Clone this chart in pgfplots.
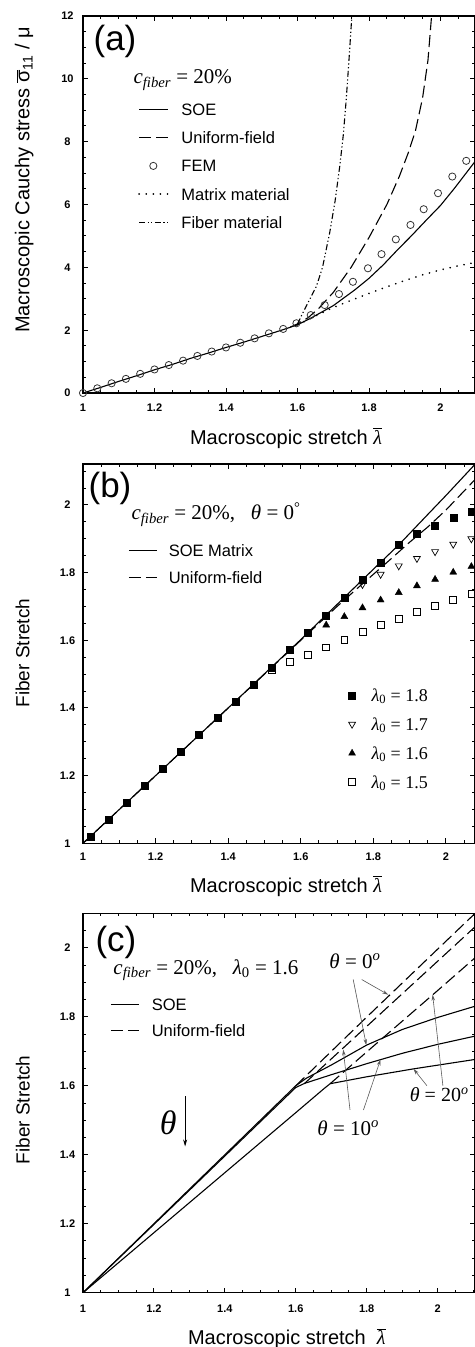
\documentclass[border=0pt]{standalone}
\usepackage{fontspec}
\setmainfont{Liberation Sans}
\newfontfamily\tms{Liberation Serif}
\usepackage{pgfplots}
\pgfplotsset{compat=1.18}
\usetikzlibrary{arrows.meta}
\newcommand{\fs}[1]{\fontsize{#1}{#1}\selectfont}
\newcommand{\lbar}{\ensuremath{\overline{\mbox{\tms\itshape λ}}}}
\newcommand{\sbar}{\ensuremath{\overline{\mbox{σ}}_{\mbox{\fs{14}11}}}}
\newcommand{\cfib}{{\tms\itshape c}\textsubscript{\tms\itshape fiber}}
\tikzset{arr/.style={black!65, line width=0.6pt, -{Stealth[length=6pt,width=3.5pt]}}}
\pgfplotsset{
  myax/.style={
    scale only axis, width=392pt, anchor=south west,
    xmin=1, enlargelimits=false,
    tick align=inside,
    major tick length=5pt, minor tick length=3pt,
    tick style={black, line width=1pt},
    axis line style={line width=1.2pt},
    xtick={1,1.2,1.4,1.6,1.8,2}, xticklabels={1,1.2,1.4,1.6,1.8,2},
    minor xtick={1.05,1.1,1.15,1.25,1.3,1.35,1.45,1.5,1.55,1.65,1.7,1.75,1.85,1.9,1.95,2.05,2.1},
    tick label style={font=\fs{11}\bfseries},
    /pgf/number format/assume math mode=true,
    xticklabel style={anchor=center},
    yticklabel style={anchor=center, xshift=-15.5pt},
    label style={font=\fs{20}},
    legend cell align=left,
    legend image code/.code={\draw[##1] (0cm,0cm) -- (1cm,0cm);},
  },
  fibticks/.style={
    ytick={1,1.2,1.4,1.6,1.8,2}, yticklabels={1,1.2,1.4,1.6,1.8,2},
    minor ytick={1.05,1.1,1.15,1.25,1.3,1.35,1.45,1.5,1.55,1.65,1.7,1.75,1.85,1.9,1.95,2.05,2.1},
  },
  uni/.style={line width=1.1pt, dash pattern=on 12pt off 5pt},
  soe/.style={line width=1.1pt},
  mleg/.style={legend image code/.code={\draw[##1] plot coordinates {(0cm,0cm)};}},
  femleg/.style={legend image code/.code={\draw[##1] plot coordinates {(0.5cm,0cm)};}},
  lineleg/.style={legend image code/.code={\draw[##1] (0cm,0cm) -- (1cm,0cm);}},
}
\begin{document}
\begin{tikzpicture}
% ---------------- (a)
\begin{axis}[myax, at={(83pt,-393pt)}, height=377pt, xmax=2.0965, ymin=0, ymax=12,
  ytick={0,2,4,6,8,10,12}, yticklabels={0,2,4,6,8,10,12},
  minor ytick={0.5,1,1.5,2.5,3,3.5,4.5,5,5.5,6.5,7,7.5,8.5,9,9.5,10.5,11,11.5},
  xticklabel style={yshift=-14.3pt},
  xlabel={Macroscopic stretch \lbar},
  ylabel={Macroscopic Cauchy stress \sbar\ / μ},
  xlabel style={at={(axis description cs:0.518,-0.1353)}, anchor=base},
  ylabel style={at={(axis description cs:-0.1365,0.565)}, anchor=base},
  legend style={at={(axis description cs:0.1403,0.7748)}, anchor=north west, draw=none, fill=none,
    inner sep=0pt, font=\fs{16.5}, nodes={inner sep=0pt, text height=14pt, text depth=2.2pt},
    row sep=12.15pt, column sep=13pt}]
\addplot[soe] coordinates {(1.00,0.00) (1.05,0.18) (1.10,0.37) (1.15,0.55) (1.20,0.74) (1.25,0.91) (1.30,1.10) (1.35,1.27) (1.40,1.45) (1.45,1.62) (1.50,1.80) (1.55,1.98) (1.60,2.17) (1.64,2.40) (1.70,2.78) (1.76,3.28) (1.80,3.65) (1.84,4.08) (1.88,4.56) (1.92,5.02) (1.96,5.50) (2.00,5.97) (2.04,6.53) (2.10,7.42)};
\addlegendentry{SOE}
\addplot[uni] coordinates {(1.58,2.10) (1.60,2.20) (1.63,2.40) (1.66,2.70) (1.70,3.20) (1.75,4.00) (1.80,4.95) (1.85,6.00) (1.885,6.90) (1.91,7.65) (1.93,8.35) (1.95,9.40) (1.965,10.60) (1.975,12.0)};
\addlegendentry{Uniform-field}
\addplot[only marks, mark=o, mark size=3.6pt, mark options={line width=0.8pt, black!80}, femleg]
  coordinates {(1.00,0.00) (1.04,0.15) (1.08,0.31) (1.12,0.45) (1.16,0.61) (1.20,0.75) (1.24,0.89) (1.28,1.03) (1.32,1.18) (1.36,1.32) (1.40,1.45) (1.44,1.60) (1.48,1.74) (1.52,1.90) (1.56,2.04) (1.597,2.22) (1.637,2.48) (1.676,2.80) (1.716,3.15) (1.755,3.54) (1.797,3.97) (1.835,4.42) (1.875,4.89) (1.916,5.35) (1.953,5.85) (1.993,6.36) (2.033,6.89) (2.072,7.39)};
\addlegendentry{FEM}
\addplot[line width=1.8pt, line cap=round, dash pattern=on 0.1pt off 7pt] coordinates {(1.60,2.17) (1.62,2.28) (1.65,2.45) (1.70,2.72) (1.75,2.95) (1.80,3.17) (1.85,3.38) (1.90,3.58) (1.95,3.76) (2.00,3.92) (2.05,4.05) (2.10,4.16)};
\addlegendentry{Matrix material}
\addplot[line width=1.1pt, dash pattern=on 6pt off 2.5pt on 1.2pt off 2.5pt on 1.2pt off 2.5pt] coordinates {(1.60,2.20) (1.615,2.55) (1.635,3.00) (1.653,3.40) (1.67,4.00) (1.69,5.10) (1.705,6.10) (1.718,7.20) (1.728,8.20) (1.736,9.30) (1.744,10.60) (1.752,12.0)};
\addlegendentry{Fiber material}
\node[font=\fs{35}] at (axis cs:1.0895,11.18) {(a)};
\node[anchor=base west, font=\tms\fs{21}] at (axis cs:1.1315,9.84) {\cfib\ = 20\%};
\end{axis}
% ---------------- (b)
\begin{axis}[myax, fibticks, at={(83pt,-843.3pt)}, height=379.3pt, xmax=2.080, ymin=1, ymax=2.121,
  xticklabel style={yshift=-13.4pt},
  xlabel={Macroscopic stretch \lbar}, ylabel={Fiber Stretch},
  ylabel style={font=\fs{19}},
  xlabel style={at={(axis description cs:0.518,-0.1284)}, anchor=base},
  ylabel style={at={(axis description cs:-0.137,0.5017)}, anchor=base},
  legend style={at={(axis description cs:0.677,0.412)}, anchor=north west, draw=none, fill=none,
    inner sep=0pt, font=\tms\fs{18}, nodes={inner sep=0pt, text height=14pt, text depth=2pt},
    row sep=13pt, column sep=16pt}]
\addplot[soe, forget plot] coordinates {(1.00,1.000) (1.20,1.200) (1.40,1.400) (1.60,1.602) (1.70,1.706) (1.80,1.810) (1.87,1.882) (1.95,1.972) (2.00,2.028) (2.08,2.120)};
\addplot[uni, forget plot] coordinates {(1.00,1.000) (1.40,1.400) (1.70,1.700) (1.75,1.748) (1.80,1.795) (1.85,1.842) (1.90,1.890) (1.95,1.935) (2.00,1.985) (2.08,2.075)};
\addplot[only marks, mark=square*, mark size=3.5pt, mleg] coordinates {(1.02,1.02) (1.07,1.07) (1.12,1.12) (1.17,1.17) (1.22,1.22) (1.27,1.27) (1.32,1.32) (1.37,1.37) (1.42,1.42) (1.47,1.47) (1.52,1.52) (1.57,1.571) (1.62,1.622) (1.67,1.674) (1.72,1.727) (1.77,1.778) (1.82,1.828) (1.87,1.882) (1.92,1.914) (1.97,1.938) (2.02,1.961) (2.07,1.981)};
\addlegendentry{{\itshape λ}\textsubscript{0} = 1.8}
\addplot[only marks, mark=triangle, mark size=4pt, mark options={rotate=180, line width=0.7pt}, mleg] coordinates {(1.77,1.765) (1.82,1.795) (1.87,1.820) (1.92,1.842) (1.97,1.862) (2.02,1.884) (2.07,1.900)};
\addlegendentry{{\itshape λ}\textsubscript{0} = 1.7}
\addplot[only marks, mark=triangle*, mark size=4pt, mleg] coordinates {(1.67,1.645) (1.72,1.670) (1.77,1.696) (1.82,1.719) (1.87,1.741) (1.92,1.761) (1.97,1.780) (2.02,1.801) (2.07,1.818)};
\addlegendentry{{\itshape λ}\textsubscript{0} = 1.6}
\addplot[only marks, mark=square, mark size=3.4pt, mark options={line width=0.7pt}, mleg] coordinates {(1.52,1.512) (1.57,1.537) (1.62,1.557) (1.67,1.579) (1.72,1.601) (1.77,1.624) (1.82,1.645) (1.87,1.663) (1.92,1.683) (1.97,1.702) (2.02,1.719) (2.07,1.737)};
\addlegendentry{{\itshape λ}\textsubscript{0} = 1.5}
\node[font=\fs{35}] at (axis cs:1.0744,2.05) {(b)};
\node[anchor=base west, font=\tms\fs{21}] at (axis cs:1.124,1.956) {\cfib\ = 20\%,\ \ \ {\itshape θ} = 0\textsuperscript{°}};
\end{axis}
\begin{axis}[at={(83pt,-843.3pt)}, anchor=south west, scale only axis, width=392pt, height=379.3pt,
  hide axis, xmin=1, xmax=2.08, ymin=1, ymax=2.121, legend cell align=left, lineleg,
  legend style={at={(axis description cs:0.1148,0.7946)}, anchor=north west, draw=none, fill=none,
    inner sep=0pt, font=\fs{16.5}, nodes={inner sep=0pt, text height=14pt, text depth=2.2pt},
    row sep=10.9pt, column sep=11pt}]
\addlegendimage{soe}
\addlegendentry{SOE Matrix}
\addlegendimage{uni}
\addlegendentry{Uniform-field}
\end{axis}
% ---------------- (c)
\begin{axis}[myax, fibticks, at={(83pt,-1292.7pt)}, height=379.4pt, xmax=2.1055, ymin=1, ymax=2.10,
  xticklabel style={yshift=-15.6pt},
  xlabel={Macroscopic stretch\ \ \lbar}, ylabel={Fiber Stretch},
  ylabel style={font=\fs{19}},
  xlabel style={at={(axis description cs:0.52,-0.1378)}, anchor=base},
  ylabel style={at={(axis description cs:-0.136,0.4816)}, anchor=base},
  legend style={at={(axis description cs:0.0689,0.7823)}, anchor=north west, draw=none, fill=none,
    inner sep=0pt, font=\fs{16.5}, nodes={inner sep=0pt, text height=14pt, text depth=2.2pt},
    row sep=9.9pt, column sep=12pt}]
\addplot[soe] coordinates {(1.0,1.0) (1.6,1.6) (1.63,1.622) (1.7,1.66) (1.8,1.718) (1.9,1.763) (2.0,1.798) (2.11,1.832)};
\addlegendentry{SOE}
\addplot[uni] coordinates {(1.6,1.6) (1.8,1.799) (2.0,1.996) (2.11,2.104)};
\addlegendentry{Uniform-field}
\addplot[soe, forget plot] coordinates {(1.0,1.0) (1.3,1.297) (1.6,1.595) (1.625,1.607) (1.7,1.632) (1.8,1.664) (1.9,1.694) (2.0,1.72) (2.11,1.745)};
\addplot[soe, forget plot] coordinates {(1.0,1.0) (1.2,1.174) (1.4,1.348) (1.6,1.522) (1.68,1.592) (1.697,1.606) (1.8,1.626) (1.932,1.649) (2.11,1.677)};
\addplot[uni, forget plot] coordinates {(1.625,1.607) (1.8,1.772) (2.0,1.961) (2.11,2.065)};
\addplot[uni, forget plot] coordinates {(1.697,1.606) (1.8,1.698) (2.0,1.876) (2.11,1.975)};
\node[font=\fs{35}] at (axis cs:1.093,2.015) {(c)};
\node[anchor=base west, font=\tms\fs{21}] at (axis cs:1.076,1.922) {\cfib\ = 20\%,\ \ \ {\itshape λ}\textsubscript{0} = 1.6};
\node[font=\tms\fs{21}] at (axis cs:1.767,1.961) {{\itshape θ} = 0\textsuperscript{\itshape o}};
\node[font=\tms\fs{21}] at (axis cs:1.748,1.477) {{\itshape θ} = 10\textsuperscript{\itshape o}};
\node[anchor=west, font=\tms\fs{20}] at (axis cs:1.912,1.574) {{\itshape θ} = 20\textsuperscript{\itshape o}};
\node[font=\tms\itshape\fs{34}] at (axis cs:1.2406,1.492) {θ};
\draw[line width=0.8pt, -{Stealth[length=7pt,width=4pt]}] (axis cs:1.288,1.569) -- (axis cs:1.288,1.424);
\draw[arr] (axis cs:1.786,1.908) -- (axis cs:1.861,1.864);
\draw[arr] (axis cs:1.762,1.908) -- (axis cs:1.799,1.718);
\draw[arr] (axis cs:1.753,1.530) -- (axis cs:1.734,1.705);
\draw[arr] (axis cs:1.791,1.530) -- (axis cs:1.839,1.676);
\draw[arr] (axis cs:1.970,1.600) -- (axis cs:1.932,1.649);
\draw[arr] (axis cs:2.015,1.600) -- (axis cs:1.986,1.864);
\end{axis}
\pgfresetboundingbox
\useasboundingbox (0,0) rectangle (474pt,-1347pt);
\end{tikzpicture}
\end{document}
